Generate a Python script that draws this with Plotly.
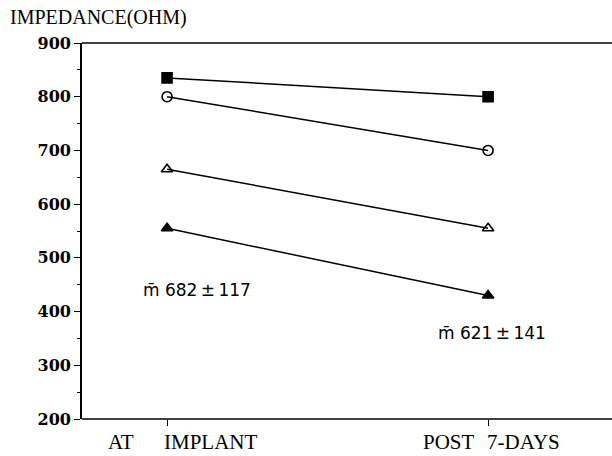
import plotly.graph_objects as go

# ---- data ----
timepoints = [0, 1]  # 0 = at implant, 1 = post 7-days
series_square_filled = [835, 800]
series_circle_open = [800, 700]
series_triangle_open = [665, 555]
series_triangle_filled = [555, 430]
y_ticks = [200, 300, 400, 500, 600, 700, 800, 900]
mean_labels = ["m\u0304 682\u2009\u00b1\u2009117", "m\u0304 621\u2009\u00b1\u2009141"]
mean_label_y = [440, 360]

fig = go.Figure()

line_style = dict(color="black", width=1.5)
specs = [
    (series_square_filled, "square", "black"),
    (series_circle_open, "circle-open", "black"),
    (series_triangle_open, "triangle-up-open", "black"),
    (series_triangle_filled, "triangle-up", "black"),
]
for vals, sym, col in specs:
    fig.add_trace(go.Scatter(
        x=timepoints, y=vals, mode="lines+markers",
        line=line_style,
        marker=dict(symbol=sym, size=10, color=col,
                    line=dict(color="black", width=1.6)),
        showlegend=False, hoverinfo="skip",
    ))

fig.update_layout(
    width=612, height=456,
    margin=dict(l=82, r=0, t=43, b=37),
    paper_bgcolor="white", plot_bgcolor="white",
    xaxis=dict(
        range=[-0.265, 1.386], showgrid=False, zeroline=False,
        showline=False,
        tickvals=timepoints, ticktext=["", ""], ticks="outside",
        ticklen=6, tickcolor="black", tickwidth=1,
    ),
    yaxis=dict(
        range=[200, 900], showgrid=False, zeroline=False,
        showline=True, linecolor="black", linewidth=1.6,
        tickvals=y_ticks, ticks="outside", ticklen=6, tickwidth=1,
        tickcolor="black",
        tickfont=dict(family="DejaVu Serif", size=16, color="black", weight="bold"),
        minor=dict(dtick=50, ticks="outside", ticklen=3, tickcolor="black", tickwidth=1),
    ),
)

# top and bottom frame lines (no right border in the reference)
for yy in (0, 1):
    fig.add_shape(type="line", xref="paper", yref="paper", x0=0, x1=1, y0=yy, y1=yy,
                  line=dict(color="black", width=1.6))

serif = dict(family="Liberation Serif", size=21, color="black")
# title of y axis
fig.add_annotation(text="IMPEDANCE(OHM)", xref="paper", yref="paper",
                   x=-74/530, y=1 + 26/376, xanchor="left", yanchor="middle",
                   showarrow=False, font=dict(family="Liberation Serif", size=20, color="black"))

# x category labels
fig.add_annotation(text="AT", xref="x", yref="paper", x=timepoints[0], y=0,
                   xanchor="right", yanchor="top", xshift=-31, yshift=-9,
                   showarrow=False, font=serif)
fig.add_annotation(text="IMPLANT", xref="x", yref="paper", x=timepoints[0], y=0,
                   xanchor="left", yanchor="top", xshift=-5, yshift=-9,
                   showarrow=False, font=serif)
fig.add_annotation(text="POST", xref="x", yref="paper", x=timepoints[1], y=0,
                   xanchor="right", yanchor="top", xshift=-11, yshift=-9,
                   showarrow=False, font=serif)
fig.add_annotation(text="7-DAYS", xref="x", yref="paper", x=timepoints[1], y=0,
                   xanchor="left", yanchor="top", xshift=-3, yshift=-9,
                   showarrow=False, font=serif)

# mean labels
sans = dict(family="DejaVu Sans", size=17, color="black")
fig.add_annotation(text=mean_labels[0], xref="x", yref="y", x=timepoints[0], y=mean_label_y[0],
                   xanchor="left", yanchor="middle", xshift=-26,
                   showarrow=False, font=sans)
fig.add_annotation(text=mean_labels[1], xref="x", yref="y", x=timepoints[1], y=mean_label_y[1],
                   xanchor="left", yanchor="middle", xshift=-52,
                   showarrow=False, font=sans)

fig.write_html("out.html")
